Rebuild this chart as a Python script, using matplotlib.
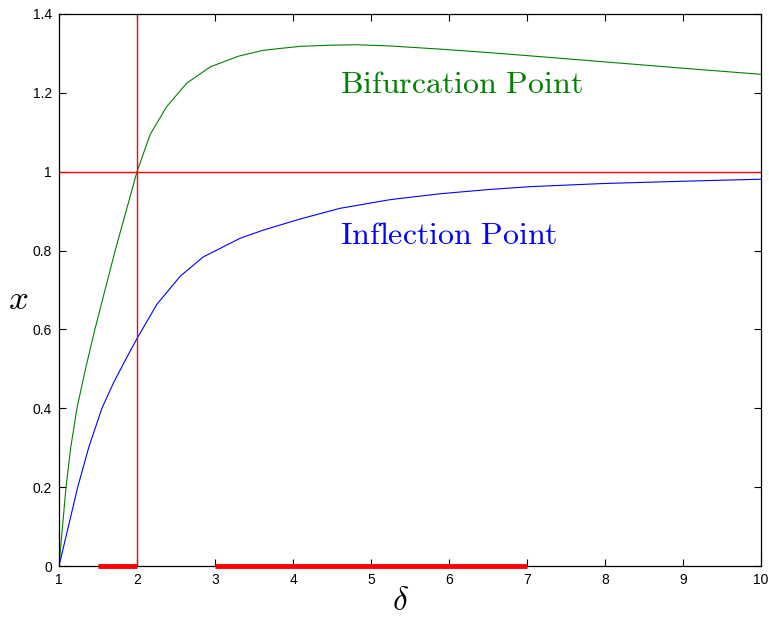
import matplotlib
matplotlib.use("Agg")
import matplotlib.pyplot as plt

plt.rcParams['mathtext.fontset'] = 'cm'
plt.rcParams['font.family'] = ['Liberation Sans', 'DejaVu Sans']

# bifurcation point curve (green)
delta_green = [1.0, 1.045, 1.09, 1.15, 1.23, 1.34, 1.46, 1.59, 1.72, 1.86, 2.0,
               2.17, 2.38, 2.64, 2.94, 3.3, 3.62, 4.09, 4.5, 4.82, 5.24,
               5.88, 6.52, 7.03, 7.97, 9.03, 10.0]
x_green = [0.0, 0.1, 0.2, 0.3, 0.4, 0.5, 0.6, 0.7, 0.8, 0.9, 1.0,
           1.095, 1.165, 1.225, 1.266, 1.293, 1.308, 1.318, 1.321, 1.322, 1.319,
           1.311, 1.302, 1.294, 1.279, 1.262, 1.247]

# inflection point curve (blue)
delta_blue = [1.0, 1.12, 1.24, 1.38, 1.55, 1.70, 1.85, 2.0, 2.256, 2.554, 2.85,
              3.32, 3.62, 4.09, 4.60, 5.24, 5.88, 6.52, 7.03, 7.97, 9.03, 10.0]
x_blue = [0.0, 0.1, 0.2, 0.3, 0.4, 0.465, 0.522, 0.577, 0.664, 0.735, 0.784,
          0.831, 0.852, 0.880, 0.907, 0.929, 0.944, 0.955, 0.962, 0.970, 0.976, 0.981]

# thick red intervals on the delta axis
intervals = [(1.5, 2.0), (3.0, 7.0)]
x_ref = 1.0
delta_ref = 2.0

xticks = [1, 2, 3, 4, 5, 6, 7, 8, 9, 10]
yticks = [0, 0.2, 0.4, 0.6, 0.8, 1.0, 1.2, 1.4]
ytick_labels = ['0', '0.2', '0.4', '0.6', '0.8', '1', '1.2', '1.4']

fig = plt.figure(figsize=(7.69, 6.2), dpi=100)
ax = fig.add_axes([59/769, 54/620, 702/769, 552/620])

ax.plot(delta_green, x_green, color='green', lw=0.8)
ax.plot(delta_blue, x_blue, color='blue', lw=0.8)
ax.axhline(x_ref, color='red', lw=1.0)
ax.axvline(delta_ref, color='red', lw=1.0)
for a, b in intervals:
    ax.plot([a, b], [0, 0], color='red', lw=3.5, solid_capstyle='butt', clip_on=False, zorder=5)

ax.text(4.6, 1.2, r'$\mathrm{Bifurcation\ Point}$', color='green', fontsize=23)
ax.text(4.6, 0.817, r'$\mathrm{Inflection\ Point}$', color='blue', fontsize=23)

ax.set_xlim(1, 10)
ax.set_ylim(0, 1.4)
ax.set_xticks(xticks)
ax.set_xticklabels([str(t) for t in xticks])
ax.set_yticks(yticks)
ax.set_yticklabels(ytick_labels)
ax.tick_params(direction='in', top=True, right=True, length=5, labelsize=10, pad=5)
for s in ax.spines.values():
    s.set_linewidth(0.9)

ax.set_xlabel(r'$\delta$', fontsize=24, va='center')
ax.xaxis.set_label_coords(0.486, -0.064)
ax.set_ylabel(r'$x$', fontsize=25, rotation=0, va='center', ha='center')
ax.yaxis.set_label_coords(-0.058, 0.482)

fig.savefig('out.png', dpi=100)
